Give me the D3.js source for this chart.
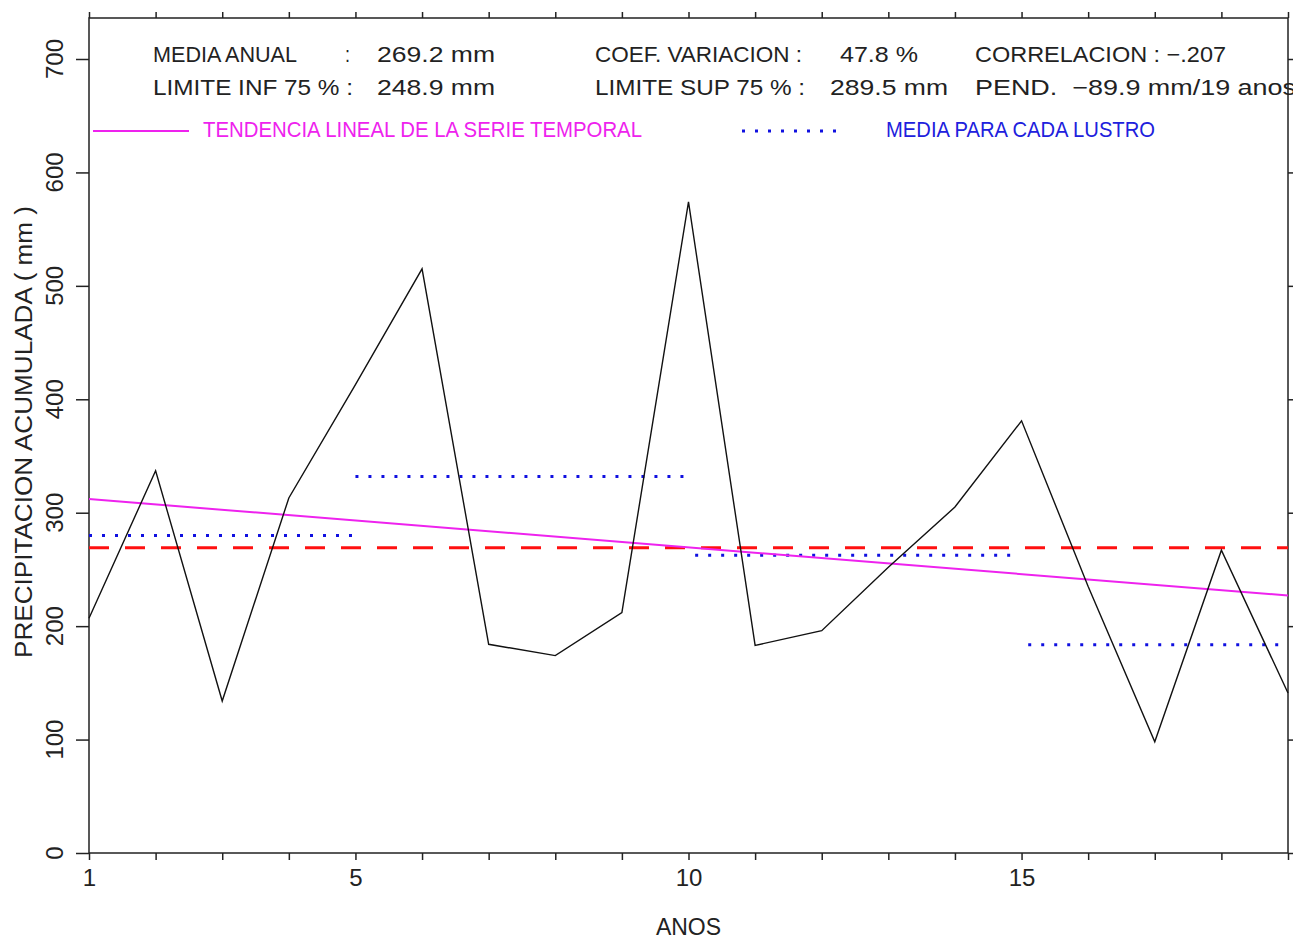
<!DOCTYPE html>
<html>
<head>
<meta charset="utf-8">
<script src="https://cdn.jsdelivr.net/npm/d3@7"></script>
<style>
  body { margin: 0; background: white; }
  svg { display: block; }
  text { font-family: "Liberation Sans", Arial, sans-serif; fill: #222; }
</style>
</head>
<body>
<div id="chart"></div>
<script>
// annual accumulated precipitation, years 1..19
var years = d3.range(1, 20);
var precip = [207, 337, 134, 313, 413, 515, 184, 174, 212, 574,
              183, 196, 252, 305, 381, 235, 98, 267, 141];

var mediaAnual = 269.2;

// mean for each lustro (5 year block): start year, end year, value
var lustroStart = [1, 5, 10.1, 15.1];
var lustroEnd   = [5, 10, 14.9, 19];
var lustroMean  = [280, 332, 262.5, 183.5];

// linear trend, value at first and last year
var trendYears  = [1, 19];
var trendValues = [312, 227];

var xTickLabels = [1, 5, 10, 15];
var yTicks = [0, 100, 200, 300, 400, 500, 600, 700];

var statsRow1 = ["MEDIA ANUAL", ":", "269.2 mm", "COEF. VARIACION :", "47.8 %", "CORRELACION : \u2212.207"];
var statsRow2 = ["LIMITE INF 75 % :", "248.9 mm", "LIMITE SUP 75 % :", "289.5 mm", "PEND.  \u221289.9 mm/19 anos"];

var width = 1293, height = 940;
var mLeft = 89, mRight = 1288, mTop = 18, mBottom = 853;

var svg = d3.select("#chart").append("svg")
  .attr("width", width)
  .attr("height", height);

var x = d3.scaleLinear().domain([1, 19]).range([mLeft, mRight]);
var y = d3.scaleLinear().domain([0, 700]).range([mBottom, 59]);

// frame
svg.append("rect")
  .attr("x", mLeft)
  .attr("y", mTop)
  .attr("width", mRight - mLeft)
  .attr("height", mBottom - mTop)
  .attr("fill", "none")
  .attr("stroke", "#222")
  .attr("stroke-width", 1.5);

// x ticks bottom and top
svg.append("g")
  .attr("transform", "translate(0," + mBottom + ")")
  .call(d3.axisBottom(x).tickValues(years).tickSize(7).tickSizeOuter(0).tickPadding(9)
    .tickFormat(function (d) { return xTickLabels.indexOf(d) >= 0 ? d : ""; }))
  .call(function (g) { g.select(".domain").remove(); })
  .call(function (g) {
    g.selectAll("line").attr("stroke", "#222").attr("stroke-width", 1.5);
    g.selectAll("text").style("font-size", "24px").style("font-family", "Liberation Sans, Arial, sans-serif").attr("fill", "#222");
  });

svg.append("g")
  .attr("transform", "translate(0," + mTop + ")")
  .call(d3.axisTop(x).tickValues(years).tickSize(6).tickSizeOuter(0).tickFormat(""))
  .call(function (g) { g.select(".domain").remove(); })
  .call(function (g) { g.selectAll("line").attr("stroke", "#222").attr("stroke-width", 1.5); });

// y ticks left and right
svg.append("g")
  .attr("transform", "translate(" + mLeft + ",0)")
  .call(d3.axisLeft(y).tickValues(yTicks).tickSize(13).tickSizeOuter(0).tickFormat(""))
  .call(function (g) { g.select(".domain").remove(); })
  .call(function (g) { g.selectAll("line").attr("stroke", "#222").attr("stroke-width", 1.5); });

svg.append("g")
  .attr("transform", "translate(" + mRight + ",0)")
  .call(d3.axisRight(y).tickValues(yTicks).tickSize(13).tickSizeOuter(0).tickFormat(""))
  .call(function (g) { g.select(".domain").remove(); })
  .call(function (g) { g.selectAll("line").attr("stroke", "#222").attr("stroke-width", 1.5); });

// rotated y tick labels
svg.selectAll(".ylab")
  .data(yTicks)
  .enter().append("text")
  .attr("class", "ylab")
  .attr("transform", function (d) { return "translate(63," + y(d) + ") rotate(-90)"; })
  .attr("text-anchor", "middle")
  .style("font-size", "24px")
  .text(function (d) { return d; });

svg.append("text")
  .attr("transform", "translate(32,432) rotate(-90)")
  .attr("text-anchor", "middle")
  .attr("textLength", 452)
  .attr("lengthAdjust", "spacingAndGlyphs")
  .style("font-size", "23px")
  .text("PRECIPITACION ACUMULADA ( mm )");

svg.append("text")
  .attr("x", x(10))
  .attr("y", 935)
  .attr("text-anchor", "middle")
  .style("font-size", "23px")
  .text("ANOS");

// header statistics: x start and width of each piece
var row1x = [153, 345, 377, 595, 840, 975];
var row1w = [144, 5, 118, 207, 78, 251];
var row2x = [153, 377, 595, 830, 975];
var row2w = [200, 118, 210, 118, 321];

svg.selectAll(".row1")
  .data(statsRow1)
  .enter().append("text")
  .attr("class", "row1")
  .attr("x", function (d, i) { return row1x[i]; })
  .attr("y", 62)
  .attr("textLength", function (d, i) { return row1w[i]; })
  .attr("lengthAdjust", "spacingAndGlyphs")
  .style("font-size", "22px")
  .style("white-space", "pre")
  .text(function (d) { return d; });

svg.selectAll(".row2")
  .data(statsRow2)
  .enter().append("text")
  .attr("class", "row2")
  .attr("x", function (d, i) { return row2x[i]; })
  .attr("y", 95)
  .attr("textLength", function (d, i) { return row2w[i]; })
  .attr("lengthAdjust", "spacingAndGlyphs")
  .style("font-size", "22px")
  .style("white-space", "pre")
  .text(function (d) { return d; });

// legend
svg.append("line")
  .attr("x1", 93).attr("x2", 189)
  .attr("y1", 131).attr("y2", 131)
  .attr("stroke", "#ee22ee")
  .attr("stroke-width", 2);

svg.append("text")
  .attr("x", 203)
  .attr("y", 137)
  .attr("textLength", 439)
  .attr("lengthAdjust", "spacingAndGlyphs")
  .style("font-size", "22px")
  .style("fill", "#ee22ee")
  .text("TENDENCIA LINEAL DE LA SERIE TEMPORAL");

svg.append("line")
  .attr("x1", 742).attr("x2", 838)
  .attr("y1", 131).attr("y2", 131)
  .attr("stroke", "#1010e0")
  .attr("stroke-width", 3)
  .attr("stroke-dasharray", "3,10");

svg.append("text")
  .attr("x", 886)
  .attr("y", 137)
  .attr("textLength", 269)
  .attr("lengthAdjust", "spacingAndGlyphs")
  .style("font-size", "22px")
  .style("fill", "#2020dd")
  .text("MEDIA PARA CADA LUSTRO");

// annual mean, red dashed
svg.append("line")
  .attr("x1", x(1)).attr("x2", x(19))
  .attr("y1", y(mediaAnual)).attr("y2", y(mediaAnual))
  .attr("stroke", "#ff1010")
  .attr("stroke-width", 3)
  .attr("stroke-dasharray", "20,16");

// lustro means, blue dotted
svg.selectAll(".lustro")
  .data(lustroMean)
  .enter().append("line")
  .attr("class", "lustro")
  .attr("x1", function (d, i) { return x(lustroStart[i]); })
  .attr("x2", function (d, i) { return x(lustroEnd[i]); })
  .attr("y1", function (d) { return y(d); })
  .attr("y2", function (d) { return y(d); })
  .attr("stroke", "#1010e0")
  .attr("stroke-width", 3)
  .attr("stroke-dasharray", "3,10");

// trend line
svg.append("line")
  .attr("x1", x(trendYears[0])).attr("x2", x(trendYears[1]))
  .attr("y1", y(trendValues[0])).attr("y2", y(trendValues[1]))
  .attr("stroke", "#ee22ee")
  .attr("stroke-width", 2);

// series
var line = d3.line()
  .x(function (d, i) { return x(years[i]); })
  .y(function (d) { return y(d); });

svg.append("path")
  .datum(precip)
  .attr("d", line)
  .attr("fill", "none")
  .attr("stroke", "#111")
  .attr("stroke-width", 1.4);
</script>
</body>
</html>
